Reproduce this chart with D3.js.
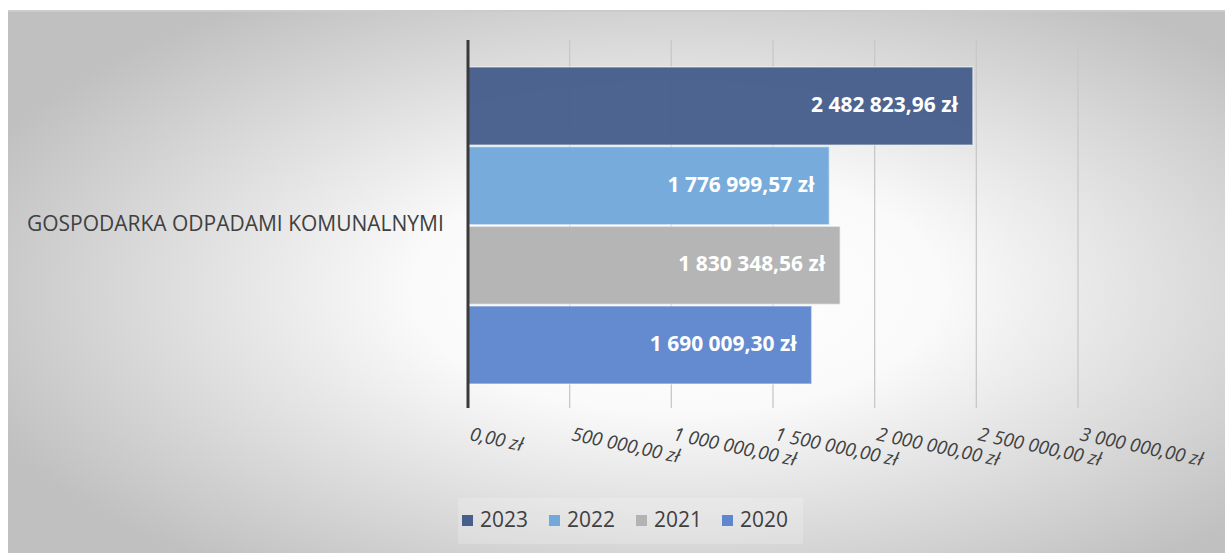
<!DOCTYPE html>
<html><head><meta charset="utf-8">
<script src="https://cdn.jsdelivr.net/npm/d3@7"></script>
<style>html,body{margin:0;padding:0;background:#fff;}svg{display:block;}</style>
</head><body>
<svg id="c" width="1225" height="553"></svg>
<script>
const category = "GOSPODARKA ODPADAMI KOMUNALNYMI";
const series = ["2023", "2022", "2021", "2020"];
const values = [2482823.96, 1776999.57, 1830348.56, 1690009.30];
const colors = ["#465f8b", "#72a8da", "#b3b3b3", "#5f87cd"];
const ticks = [0, 500000, 1000000, 1500000, 2000000, 2500000, 3000000];

const fmt = v => {
  const [i, d] = v.toFixed(2).split(".");
  return i.replace(/\B(?=(\d{3})+(?!\d))/g, " ") + "," + d + " zł";
};
const FONT = "'Open Sans', 'Noto Sans', sans-serif";

const svg = d3.select("#c");
// measure helper: font size that gives a text a target width
function fitSize(text, target, weight, style) {
  const t = svg.append("text").attr("font-family", FONT).attr("font-size", 20)
    .attr("font-weight", weight || "normal").attr("font-style", style || "normal").text(text);
  const w = t.node().getComputedTextLength();
  t.remove();
  return 20 * target / w;
}

const defs = svg.append("defs");
const g = defs.append("radialGradient").attr("id", "bg")
  .attr("cx", "0.55").attr("cy", "0.5").attr("r", "0.62").attr("fx", "0.55").attr("fy", "0.5");
g.append("stop").attr("offset", "0").attr("stop-color", "#ffffff");
g.append("stop").attr("offset", "0.35").attr("stop-color", "#fafafa");
g.append("stop").attr("offset", "1").attr("stop-color", "#c0c0c0");

svg.append("rect").attr("x", 8).attr("y", 10).attr("width", 1217).attr("height", 560).attr("fill", "url(#bg)");
svg.append("line").attr("x1", 8).attr("x2", 1225).attr("y1", 11).attr("y2", 11).attr("stroke", "#cbcbcb").attr("stroke-width", 2);

const x = d3.scaleLinear().domain([0, 3000000]).range([468, 1078]);
const plotTop = 40, plotBottom = 408;
const y = d3.scaleBand().domain(series).range([67, 384]).paddingInner(0.02);

// gridlines
svg.append("g").selectAll("line").data(ticks.slice(1)).join("line")
  .attr("x1", d => x(d)).attr("x2", d => x(d)).attr("y1", plotTop).attr("y2", plotBottom)
  .attr("stroke", "#c8c8c8").attr("stroke-width", 1.3);

// bars
svg.append("g").selectAll("rect").data(series).join("rect")
  .attr("x", x(0)).attr("y", d => y(d))
  .attr("width", (d, i) => x(values[i]) - x(0))
  .attr("height", y.bandwidth())
  .attr("fill", (d, i) => colors[i]).attr("fill-opacity", 0.97)
  .attr("stroke", "rgba(255,255,255,0.45)").attr("stroke-width", 1.5);

// value labels
const valSize = fitSize("2 482 823,96 zł", 147, "bold");
svg.append("g").selectAll("text").data(series).join("text")
  .attr("x", (d, i) => x(values[i]) - 15)
  .attr("y", d => y(d) + y.bandwidth() / 2 + 6)
  .attr("text-anchor", "end")
  .attr("font-family", FONT)
  .attr("font-weight", "bold").attr("font-size", valSize).attr("fill", "#ffffff")
  .text((d, i) => fmt(values[i]));

// vertical axis line
svg.append("line").attr("x1", x(0)).attr("x2", x(0)).attr("y1", plotTop).attr("y2", plotBottom)
  .attr("stroke", "#3a3a3a").attr("stroke-width", 3);

// tick labels
const tickSize = fitSize("500 000,00 zł", 110, "normal", "italic");
svg.append("g").selectAll("text").data(ticks).join("text")
  .attr("transform", d => `translate(${x(d) + 1},${440}) rotate(12)`)
  .attr("font-family", FONT).attr("font-style", "italic")
  .attr("font-size", tickSize).attr("fill", "#404040")
  .text(d => fmt(d));

// category label
const catSize = fitSize(category, 417);
svg.append("text").attr("x", 27).attr("y", 231)
  .attr("font-family", FONT).attr("font-size", catSize).attr("fill", "#404040")
  .text(category);

// legend
svg.append("rect").attr("x", 458).attr("y", 498).attr("width", 345).attr("height", 46).attr("fill", "rgba(255,255,255,0.2)");
const lx = [462, 549, 636, 722];
const legSize = fitSize("2023", 48);
const leg = svg.append("g").selectAll("g").data(series).join("g")
  .attr("transform", (d, i) => `translate(${lx[i]},515)`);
leg.append("rect").attr("width", 11).attr("height", 11).attr("fill", (d, i) => colors[i]);
leg.append("text").attr("x", 18).attr("y", 12).attr("font-family", FONT)
  .attr("font-size", legSize).attr("fill", "#404040").text(d => d);
</script>
</body></html>
